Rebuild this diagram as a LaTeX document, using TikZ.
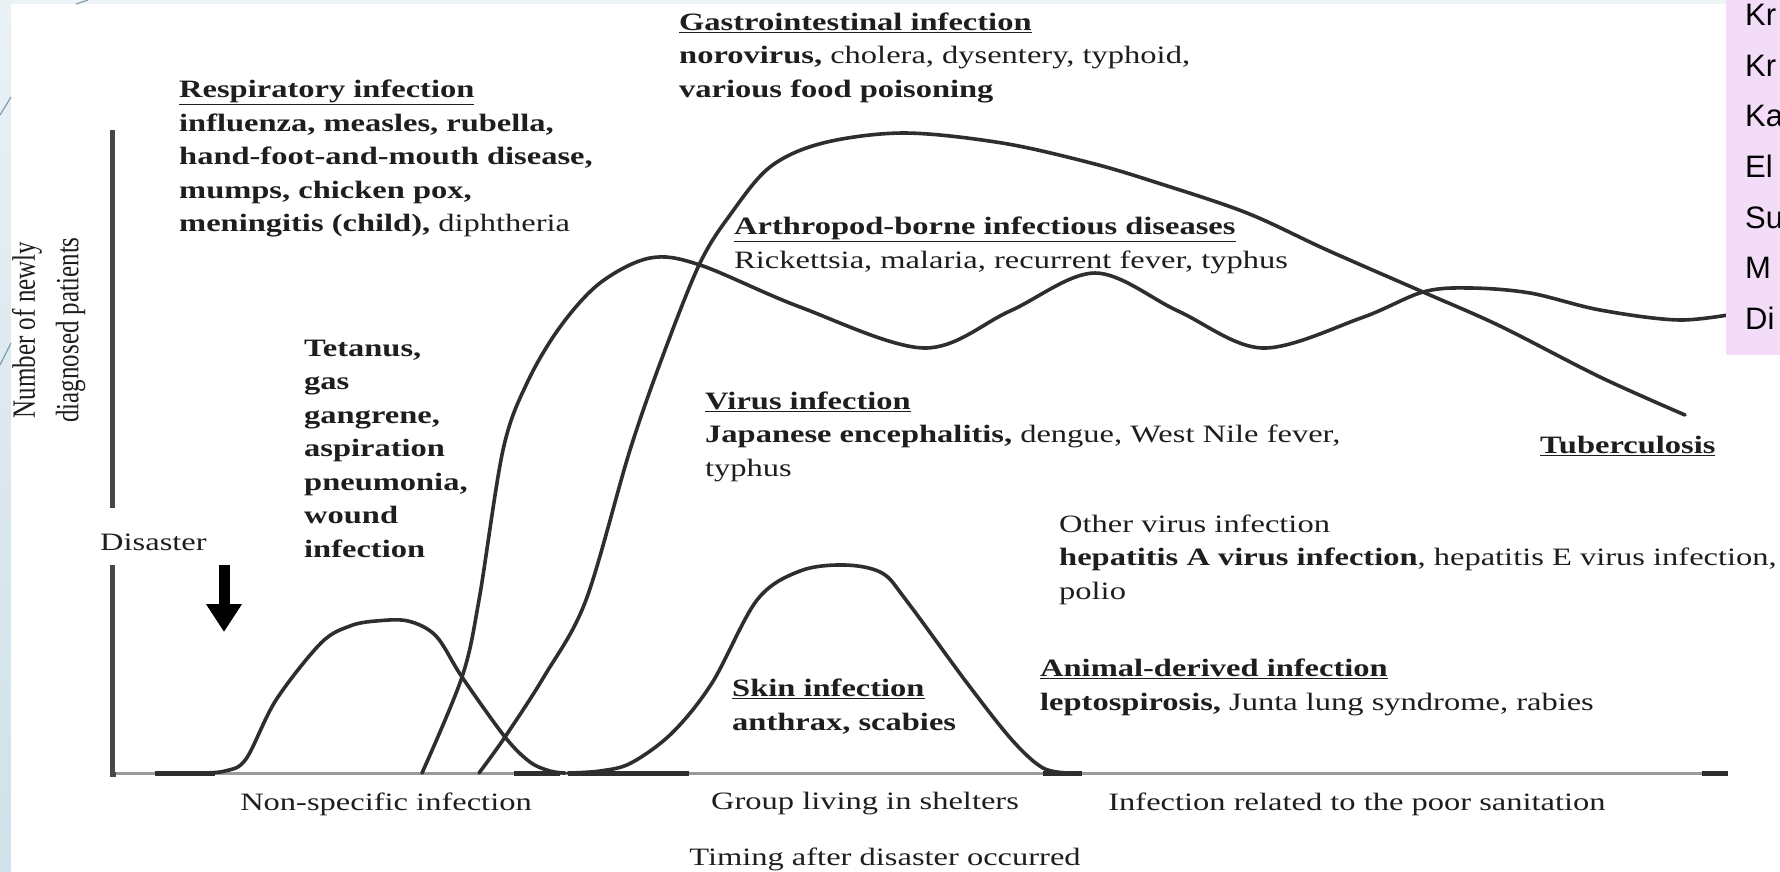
\documentclass[tikz,border=0pt]{standalone}
\usepackage{fontspec}
\setmainfont{Liberation Serif}
\newfontfamily\boxfont{Liberation Sans}
\usetikzlibrary{arrows.meta}
\definecolor{curvecol}{HTML}{2E2E2E}
\definecolor{axiscol}{HTML}{9A9A9A}
\definecolor{yaxcol}{HTML}{474747}
\definecolor{txtcol}{HTML}{1E1E1E}
\definecolor{lav}{HTML}{F2DCF7}
\definecolor{stripa}{HTML}{E9F1F4}
\definecolor{stripb}{HTML}{CFE1EA}
\definecolor{topstrip}{HTML}{EEF3F5}
\definecolor{decoline}{HTML}{7F9FB3}
\newcommand{\blk}[1]{\scalebox{1.3}[1]{\begin{tabular}{@{}l@{}}#1\end{tabular}}}
\newcommand{\uhead}[1]{\underline{\textbf{#1}}}
\begin{document}
\begin{tikzpicture}[x=1pt,y=-1pt,
  curve/.style={draw=curvecol,line width=3.6pt,line cap=round,line join=round},
  tick/.style={draw=curvecol,line width=5pt},
  lbl/.style={inner sep=0pt,anchor=west,text=txtcol,font=\fontsize{25}{33.5}\selectfont},
  clbl/.style={inner sep=0pt,anchor=center,text=txtcol,font=\fontsize{25}{33.5}\selectfont},
  boxtxt/.style={inner sep=0pt,anchor=base west,text=black,font=\boxfont\fontsize{31}{36}\selectfont},
  deco/.style={draw=decoline,line width=1.2pt}]
\useasboundingbox (0,0) rectangle (1780,871);
% background
\fill[white] (0,0) rectangle (1780,871);
\shade[top color=stripa,bottom color=stripb] (0,0) rectangle (10.5,871);
\fill[topstrip] (10.5,0) rectangle (1726,4);
\coordinate (d1a) at (88,0); \coordinate (d1b) at (76,4);
\coordinate (d2a) at (11,97); \coordinate (d2b) at (0,115);
\coordinate (d3a) at (11,343); \coordinate (d3b) at (0,365);
\draw[deco] (d1a) -- (d1b);
\draw[deco] (d2a) -- (d2b);
\draw[deco] (d3a) -- (d3b);
% axes
\coordinate (yt) at (112,130); \coordinate (ym1) at (112,508);
\coordinate (ym2) at (112,565); \coordinate (yb) at (112,774);
\coordinate (xl) at (112,773); \coordinate (xr) at (1728,773);
\draw[draw=axiscol,line width=3pt] (xl) -- (xr);
\draw[draw=yaxcol,line width=5pt] (yt) -- (ym1);
\draw[draw=yaxcol,line width=5pt,line cap=butt] (ym2) -- (yb) -- ++(4,0);
% thick marks on axis
\coordinate (t1a) at (155,773); \coordinate (t1b) at (215,773);
\coordinate (t2a) at (514,773); \coordinate (t2b) at (560,773);
\coordinate (t3a) at (568,773); \coordinate (t3b) at (689,773);
\coordinate (t4a) at (1043,773); \coordinate (t4b) at (1082,773);
\coordinate (t5a) at (1702,773); \coordinate (t5b) at (1728,773);
\draw[tick] (t1a) -- (t1b);
\draw[tick] (t2a) -- (t2b);
\draw[tick] (t3a) -- (t3b);
\draw[tick] (t4a) -- (t4b);
\draw[tick] (t5a) -- (t5b);
% disaster arrow
\coordinate (arrtop) at (224,565); \coordinate (arrbot) at (224,632);
\draw[draw=black,line width=11pt,-{Triangle[width=34pt,length=28pt]}] (arrtop) -- (arrbot);
% curves
\draw[curve] plot[smooth,tension=0.55] coordinates {(200,773) (225,771) (246,759) (276,700) (321,643) (350,626) (376,621) (408,621) (436,636) (462,677) (505,737) (530,762) (550,771) (565,773)};
\draw[curve] plot[smooth,tension=0.55] coordinates {(568,773) (600,771) (631,763) (672,733) (712,683) (757,600) (800,571) (845,565) (882,573) (906,600) (967,683) (1012,740) (1043,768) (1070,773)};
\draw[curve] plot[smooth,tension=0.55] coordinates {(422,773) (462,677) (479,600) (503,450) (527,383) (560,327) (600,283) (650,258) (700,265) (800,307) (924,348) (1010,311) (1095,273) (1178,311) (1262,348) (1361,318) (1423,292) (1470,288) (1530,293) (1600,310) (1680,320) (1745,312)};
\draw[curve] plot[smooth,tension=0.55] coordinates {(479,773) (505,737) (545,675) (586,600) (630,450) (665,350) (700,263) (730,215) (770,167) (823,143) (904,133) (1002,143) (1091,163) (1158,183) (1247,213) (1327,250) (1423,292) (1500,326) (1600,377) (1685,415)};
% texts
\node[lbl] (resp) at (179,158) {\blk{\uhead{Respiratory infection}\\ \textbf{influenza, measles, rubella,}\\ \textbf{hand-foot-and-mouth disease,}\\ \textbf{mumps, chicken pox,}\\ \textbf{meningitis (child),} diphtheria}};
\node[lbl] (gastro) at (679,57) {\blk{\uhead{Gastrointestinal infection}\\ \textbf{norovirus,} cholera, dysentery, typhoid,\\ \textbf{various food poisoning}}};
\node[lbl] (arth) at (734,245) {\blk{\uhead{Arthropod-borne infectious diseases}\\ Rickettsia, malaria, recurrent fever, typhus}};
\node[lbl] (virus) at (705,436) {\blk{\uhead{Virus infection}\\ \textbf{Japanese encephalitis,} dengue, West Nile fever,\\ typhus}};
\node[lbl] (other) at (1059,559) {\blk{Other virus infection\\ \textbf{hepatitis A virus infection}, hepatitis E virus infection,\\ polio}};
\node[lbl] (tet) at (304,450) {\blk{\textbf{Tetanus,}\\ \textbf{gas}\\ \textbf{gangrene,}\\ \textbf{aspiration}\\ \textbf{pneumonia,}\\ \textbf{wound}\\ \textbf{infection}}};
\node[lbl] (skin) at (732,707) {\blk{\uhead{Skin infection}\\ \textbf{anthrax, scabies}}};
\node[lbl] (animal) at (1040,687) {\blk{\uhead{Animal-derived infection}\\ \textbf{leptospirosis,} Junta lung syndrome, rabies}};
\node[lbl] (tb) at (1540,447) {\blk{\uhead{Tuberculosis}}};
\node[lbl] (dis) at (100,544) {\blk{Disaster}};
\node[clbl,rotate=90] (ylab) at (48,330) {\scalebox{1}[1.3]{\begin{tabular}{@{}c@{}}Number of newly\\ diagnosed patients\end{tabular}}};
\node[clbl] (x1) at (386,804) {\scalebox{1.3}[1]{Non-specific infection}};
\node[clbl] (x2) at (865,804) {\scalebox{1.3}[1]{Group living in shelters}};
\node[clbl] (x3) at (1357,804) {\scalebox{1.3}[1]{Infection related to the poor sanitation}};
\node[clbl] (x4) at (885,859) {\scalebox{1.3}[1]{Timing after disaster occurred}};
% purple box
\fill[lav] (1726,0) rectangle (1780,355);
\node[boxtxt] (b1) at (1745,25) {Kr};
\node[boxtxt] (b2) at (1745,76) {Kr};
\node[boxtxt] (b3) at (1745,126) {Ka};
\node[boxtxt] (b4) at (1745,177) {El};
\node[boxtxt] (b5) at (1745,228) {Su};
\node[boxtxt] (b6) at (1745,278) {M};
\node[boxtxt] (b7) at (1745,329) {Di};
\end{tikzpicture}
\end{document}
